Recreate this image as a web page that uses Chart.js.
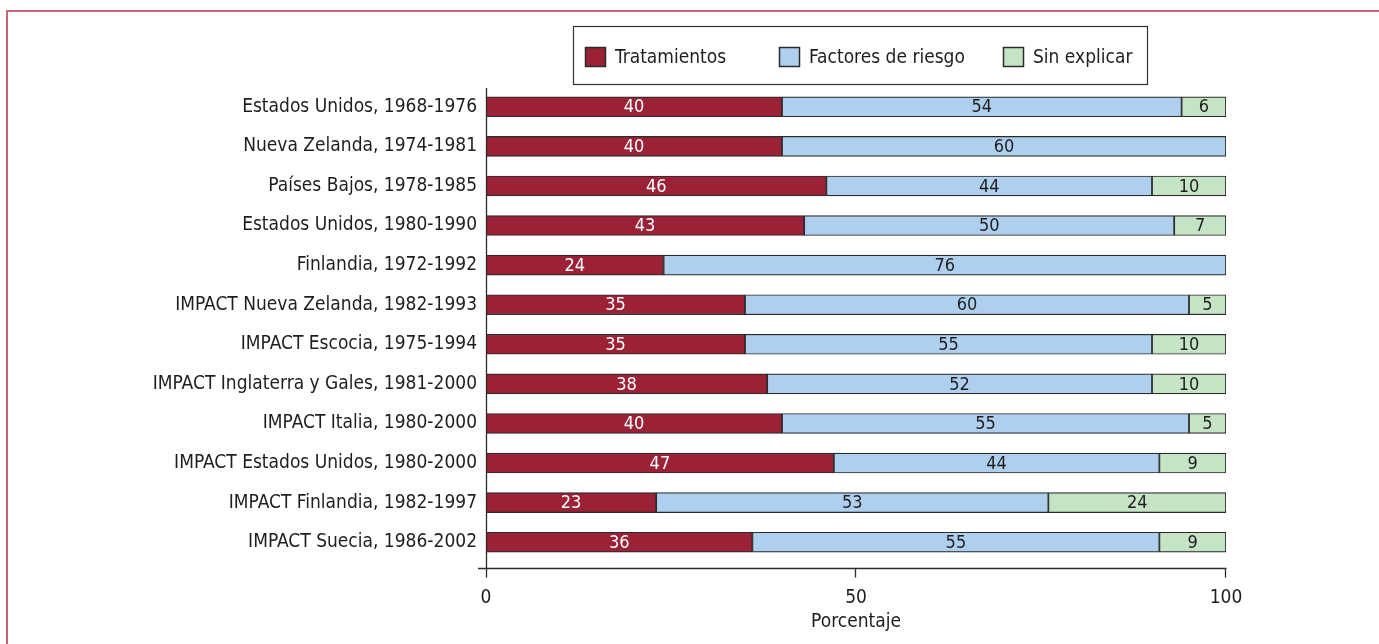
<!DOCTYPE html>
<html><head><meta charset="utf-8">
<script src="https://cdn.jsdelivr.net/npm/chart.js@4.4.1/dist/chart.umd.min.js"></script>
<style>
html,body{margin:0;padding:0;background:#fff;}
#wrap{position:relative;width:1379px;height:644px;overflow:hidden;}
#frame{position:absolute;left:6px;top:10px;width:1500px;height:800px;border-left:2px solid #c8647a;border-top:2px solid #c8647a;box-sizing:border-box;}
canvas{position:absolute;left:0;top:0;}
</style></head><body>
<div id="wrap"><div id="frame"></div><canvas id="c" width="1379" height="644"></canvas></div>
<script>
const categories = [
  "Estados Unidos, 1968-1976",
  "Nueva Zelanda, 1974-1981",
  "Países Bajos, 1978-1985",
  "Estados Unidos, 1980-1990",
  "Finlandia, 1972-1992",
  "IMPACT Nueva Zelanda, 1982-1993",
  "IMPACT Escocia, 1975-1994",
  "IMPACT Inglaterra y Gales, 1981-2000",
  "IMPACT Italia, 1980-2000",
  "IMPACT Estados Unidos, 1980-2000",
  "IMPACT Finlandia, 1982-1997",
  "IMPACT Suecia, 1986-2002"
];
const tratamientos = [40, 40, 46, 43, 24, 35, 35, 38, 40, 47, 23, 36];
const factoresRiesgo = [54, 60, 44, 50, 76, 60, 55, 52, 55, 44, 53, 55];
const sinExplicar = [6, null, 10, 7, null, 5, 10, 10, 5, 9, 24, 9];
const seriesNames = ["Tratamientos", "Factores de riesgo", "Sin explicar"];
const xTicks = [0, 50, 100];
const axisTitle = "Porcentaje";

const FONT = "'Liberation Sans Narrow', 'DejaVu Sans Condensed', sans-serif";
const colors = ["#9b2236", "#aecfee", "#c5e4c5"];
const labelColors = ["#ffffff", "#1e1e1e", "#1e1e1e"];
const stroke = "#2b2b2b";

const valueLabels = {
  id: 'valueLabels',
  afterDatasetsDraw(chart) {
    const ctx = chart.ctx;
    ctx.save();
    ctx.font = "18px " + FONT;
    ctx.textAlign = 'center';
    ctx.textBaseline = 'middle';
    chart.data.datasets.forEach((ds, di) => {
      const meta = chart.getDatasetMeta(di);
      meta.data.forEach((el, i) => {
        const v = ds.data[i];
        if (v == null) return;
        const p = el.getProps(['x', 'y', 'base'], true);
        ctx.fillStyle = labelColors[di];
        ctx.fillText(String(v), (p.x + p.base) / 2, p.y + 1);
      });
    });
    ctx.restore();
  }
};

const axesAndLegend = {
  id: 'axesAndLegend',
  afterDraw(chart) {
    const ctx = chart.ctx;
    const xs = chart.scales.x, ca = chart.chartArea;
    const x0 = xs.getPixelForValue(0);
    const xEnd = xs.getPixelForValue(100);
    const axisY = ca.bottom + 6.5;
    ctx.save();
    ctx.strokeStyle = stroke;
    ctx.lineWidth = 1.3;
    ctx.beginPath();
    ctx.moveTo(Math.round(x0) + 0.5, ca.top + 1);
    ctx.lineTo(Math.round(x0) + 0.5, axisY + 9);
    ctx.moveTo(x0 - 8, axisY);
    ctx.lineTo(xEnd + 0.5, axisY);
    xTicks.slice(1).forEach(t => {
      const px = Math.round(xs.getPixelForValue(t)) - 0.5;
      ctx.moveTo(px, axisY);
      ctx.lineTo(px, axisY + 9);
    });
    ctx.stroke();

    // legend
    const box = {l: 573.5, t: 26.5, r: 1147.5, b: 84.5};
    ctx.lineWidth = 1.2;
    ctx.strokeStyle = "#333";
    ctx.strokeRect(box.l, box.t, box.r - box.l, box.b - box.t);
    const markerX = [585, 779, 1003];
    ctx.font = "19px " + FONT;
    ctx.textBaseline = 'middle';
    ctx.textAlign = 'left';
    chart.data.datasets.forEach((ds, i) => {
      const mx = markerX[i];
      ctx.fillStyle = ds.backgroundColor;
      ctx.fillRect(mx + 0.5, 47.5, 20, 19);
      ctx.strokeStyle = stroke;
      ctx.lineWidth = 1.5;
      ctx.strokeRect(mx + 0.5, 47.5, 20, 19);
      ctx.fillStyle = "#1e1e1e";
      ctx.fillText(ds.label, mx + 30, 58);
    });
    ctx.restore();
  }
};

new Chart(document.getElementById('c'), {
  type: 'bar',
  data: {
    labels: categories,
    datasets: [
      {label: seriesNames[0], data: tratamientos, backgroundColor: colors[0]},
      {label: seriesNames[1], data: factoresRiesgo, backgroundColor: colors[1]},
      {label: seriesNames[2], data: sinExplicar, backgroundColor: colors[2]}
    ].map(d => Object.assign(d, {borderColor: stroke, borderWidth: 1.2, borderSkipped: false, barThickness: 20}))
  },
  options: {
    indexAxis: 'y',
    responsive: false,
    animation: false,
    devicePixelRatio: 1,
    layout: {padding: {top: 87, right: 153, left: 0, bottom: 0}},
    plugins: {legend: {display: false}, tooltip: {enabled: false}},
    scales: {
      x: {
        stacked: true, min: 0, max: 100,
        afterBuildTicks(s) { s.ticks = xTicks.map(v => ({value: v})); },
        afterFit(s) { s.height = 82; },
        grid: {display: false, drawTicks: false},
        border: {display: false},
        ticks: {color: '#1e1e1e', padding: 25, font: {family: FONT, size: 19}},
        title: {display: true, text: axisTitle, color: '#1e1e1e', padding: {top: 0, bottom: 11}, font: {family: FONT, size: 19}}
      },
      y: {
        stacked: true,
        afterFit(s) { s.width = 486; },
        grid: {display: false, drawTicks: false},
        border: {display: false},
        ticks: {color: '#1e1e1e', padding: 9, font: {family: FONT, size: 19}}
      }
    }
  },
  plugins: [valueLabels, axesAndLegend]
});
</script>
</body></html>
